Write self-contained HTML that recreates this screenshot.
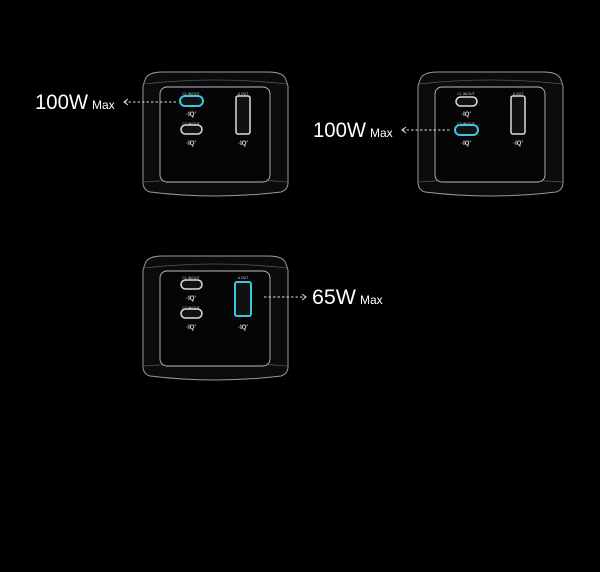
<!DOCTYPE html>
<html><head><style>html,body{margin:0;padding:0;background:#000;width:600px;height:572px;overflow:hidden}</style></head>
<body>
<svg width="600" height="572" viewBox="0 0 600 572" xmlns="http://www.w3.org/2000/svg" font-family="Liberation Sans, sans-serif">
<defs>
<g id="ch">
  <path d="M2,8 Q4,0 20,0 L125,0 Q141,0 143,8 L145,14 L145,110 Q145,118 138,120 Q72,128 7,120 Q0,118 0,110 L0,14 Z" fill="#0b0b0d" stroke="#999" stroke-width="1"/>
  <path d="M1,12 Q72,4 144,12" fill="none" stroke="#555" stroke-width="0.8"/>
  <path d="M1,110 Q72,104 144,110" fill="none" stroke="#555" stroke-width="0.8"/>
  <rect x="17" y="15" width="110" height="95" rx="7" fill="#050505" stroke="#bbb" stroke-width="0.9"/>
  <text x="48" y="23" font-size="3.5" fill="#ccc" text-anchor="middle">C1 IN/OUT</text>
  <text x="48" y="53" font-size="3.5" fill="#ccc" text-anchor="middle">C2 IN/OUT</text>
  <text x="100" y="23" font-size="3.5" fill="#ccc" text-anchor="middle">A OUT</text>
  <text x="48" y="44" font-size="6" fill="#ddd" text-anchor="middle" font-weight="bold">·IQ'</text>
  <text x="48" y="73" font-size="6" fill="#ddd" text-anchor="middle" font-weight="bold">·IQ'</text>
  <text x="100" y="73" font-size="6" fill="#ddd" text-anchor="middle" font-weight="bold">·IQ'</text>
</g>
</defs>
<!-- charger 1 -->
<use href="#ch" x="143" y="72"/>
<rect x="180" y="96" width="23" height="10" rx="5" fill="#111" stroke="#3cc8e0" stroke-width="2"/>
<rect x="181" y="125" width="21" height="9" rx="4.5" fill="#111" stroke="#ddd" stroke-width="1.5"/>
<rect x="236" y="96" width="14" height="38" rx="2" fill="#111" stroke="#ddd" stroke-width="1.5"/>
<line x1="124" y1="102" x2="176" y2="102" stroke="#ddd" stroke-dasharray="2.5,2" stroke-width="1"/>
<path d="M128,99 L124,102 L128,105" fill="none" stroke="#ddd" stroke-width="1"/>
<text x="35" y="109" font-size="21" fill="#fff" textLength="53" lengthAdjust="spacingAndGlyphs">100W</text>
<text x="92" y="109" font-size="12" fill="#fff">Max</text>
<!-- charger 2 -->
<use href="#ch" x="418" y="72"/>
<rect x="456" y="97" width="21" height="9" rx="4.5" fill="#111" stroke="#ddd" stroke-width="1.5"/>
<rect x="455" y="125" width="23" height="10" rx="5" fill="#111" stroke="#3cc8e0" stroke-width="2"/>
<rect x="511" y="96" width="14" height="38" rx="2" fill="#111" stroke="#ddd" stroke-width="1.5"/>
<line x1="402" y1="130" x2="450" y2="130" stroke="#ddd" stroke-dasharray="2.5,2" stroke-width="1"/>
<path d="M406,127 L402,130 L406,133" fill="none" stroke="#ddd" stroke-width="1"/>
<text x="313" y="137" font-size="21" fill="#fff" textLength="53" lengthAdjust="spacingAndGlyphs">100W</text>
<text x="370" y="137" font-size="12" fill="#fff">Max</text>
<!-- charger 3 -->
<use href="#ch" x="143" y="256"/>
<rect x="181" y="280" width="21" height="9" rx="4.5" fill="#111" stroke="#ddd" stroke-width="1.5"/>
<rect x="181" y="309" width="21" height="9" rx="4.5" fill="#111" stroke="#ddd" stroke-width="1.5"/>
<rect x="235" y="282" width="16" height="34" rx="2" fill="#111" stroke="#3cc8e0" stroke-width="2"/>
<line x1="264" y1="297" x2="306" y2="297" stroke="#ddd" stroke-dasharray="2.5,2" stroke-width="1"/>
<path d="M302,294 L306,297 L302,300" fill="none" stroke="#ddd" stroke-width="1"/>
<text x="312" y="304" font-size="21" fill="#fff" textLength="44" lengthAdjust="spacingAndGlyphs">65W</text>
<text x="360" y="304" font-size="12" fill="#fff">Max</text>
</svg>
</body></html>
